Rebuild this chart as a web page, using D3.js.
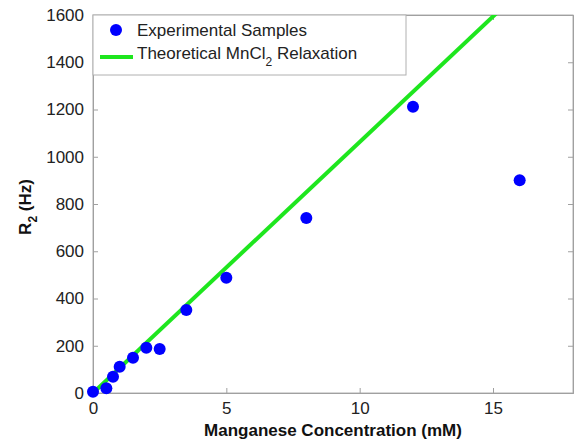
<!DOCTYPE html>
<html>
<head>
<meta charset="utf-8">
<script src="https://cdn.jsdelivr.net/npm/d3@7"></script>
<style>
  body { margin: 0; background: #fff; }
  text { font-family: "Liberation Sans", Arial, sans-serif; }
</style>
</head>
<body>
<div id="chart"></div>
<script>
// Experimental samples (mM, Hz)
const sampleConc = [0, 0.5, 0.75, 1, 1.5, 2, 2.5, 3.5, 5, 8, 12, 16];
const sampleR2 = [5, 20, 69, 111, 149, 192, 186, 351, 488, 741, 1212, 901];

// Theoretical MnCl2 relaxation line endpoints
const lineConc = [0, 16];
const lineR2 = [0, 1700];

const xTicks = [0, 5, 10, 15];
const yTicks = [0, 200, 400, 600, 800, 1000, 1200, 1400, 1600];

const width = 579, height = 442;
const margin = { top: 15, right: 6, bottom: 49, left: 93 };
const plotW = width - margin.left - margin.right;
const plotH = height - margin.top - margin.bottom;

const svg = d3.select('#chart').append('svg')
    .attr('width', width)
    .attr('height', height);

const x = d3.scaleLinear().domain([0, 18]).range([0, plotW]);
const y = d3.scaleLinear().domain([0, 1600]).range([plotH, 0]);

const g = svg.append('g')
    .attr('transform', `translate(${margin.left},${margin.top})`);

svg.append('defs').append('clipPath').attr('id', 'clip')
    .append('rect').attr('width', plotW).attr('height', plotH);

// Box around plot
g.append('rect')
    .attr('width', plotW)
    .attr('height', plotH)
    .attr('fill', 'none')
    .attr('stroke', '#b0b0b0')
    .attr('stroke-width', 1);

// Axes with inward ticks (MATLAB style)
const fmt = d3.format('d');
const xAxis = g.append('g')
    .attr('transform', `translate(0,${plotH})`)
    .call(d3.axisBottom(x).tickValues(xTicks).tickFormat(fmt).tickSize(-5).tickPadding(9));
const xAxisTop = g.append('g')
    .call(d3.axisTop(x).tickValues(xTicks).tickSize(-5).tickFormat(''));
const yAxis = g.append('g')
    .call(d3.axisLeft(y).tickValues(yTicks).tickFormat(fmt).tickSize(-5).tickPadding(9));
const yAxisRight = g.append('g')
    .attr('transform', `translate(${plotW},0)`)
    .call(d3.axisRight(y).tickValues(yTicks).tickSize(-5).tickFormat(''));

[xAxis, xAxisTop, yAxis, yAxisRight].forEach(a => {
    a.select('.domain').attr('stroke', '#a0a0a0');
    a.selectAll('.tick line').attr('stroke', '#a0a0a0');
    a.selectAll('.tick text')
        .attr('font-size', 17)
        .attr('fill', '#222')
        .style('font-family', '"Liberation Sans", Arial, sans-serif');
});

// Theoretical line
const line = d3.line()
    .x((d, i) => x(lineConc[i]))
    .y(d => y(d));

g.append('path')
    .datum(lineR2)
    .attr('clip-path', 'url(#clip)')
    .attr('d', line)
    .attr('fill', 'none')
    .attr('stroke', '#1ee61e')
    .attr('stroke-width', 4);

// Samples
g.selectAll('circle.sample')
    .data(sampleConc)
    .enter()
    .append('circle')
    .attr('class', 'sample')
    .attr('cx', d => x(d))
    .attr('cy', (d, i) => y(sampleR2[i]))
    .attr('r', 6)
    .attr('fill', '#0000ff');

// Legend
const legend = g.append('g');
legend.append('rect')
    .attr('x', 0).attr('y', 0)
    .attr('width', 313).attr('height', 60)
    .attr('fill', '#fff')
    .attr('stroke', '#b0b0b0');
legend.append('circle')
    .attr('cx', 23).attr('cy', 15).attr('r', 6)
    .attr('fill', '#0000ff');
legend.append('text')
    .attr('x', 44).attr('y', 21)
    .attr('font-size', 17)
    .attr('fill', '#222')
    .text('Experimental Samples');
legend.append('line')
    .attr('x1', 7).attr('x2', 40)
    .attr('y1', 42).attr('y2', 42)
    .attr('stroke', '#1ee61e')
    .attr('stroke-width', 4);
const lt = legend.append('text')
    .attr('x', 44).attr('y', 44)
    .attr('font-size', 17)
    .attr('fill', '#222');
lt.append('tspan').text('Theoretical MnCl');
lt.append('tspan').attr('font-size', 12).attr('dy', 7).text('2');
lt.append('tspan').attr('dy', -7).text(' Relaxation');

// Axis labels
svg.append('text')
    .attr('x', margin.left + x(9))
    .attr('y', 436)
    .attr('text-anchor', 'middle')
    .attr('font-size', 17)
    .attr('font-weight', 'bold')
    .attr('fill', '#111')
    .text('Manganese Concentration (mM)');

const yl = svg.append('text')
    .attr('transform', `translate(31,207) rotate(-90)`)
    .attr('text-anchor', 'middle')
    .attr('font-size', 17)
    .attr('font-weight', 'bold')
    .attr('fill', '#111');
yl.append('tspan').text('R');
yl.append('tspan').attr('font-size', 12).attr('dy', 6).text('2');
yl.append('tspan').attr('dy', -6).text(' (Hz)');
</script>
</body>
</html>
